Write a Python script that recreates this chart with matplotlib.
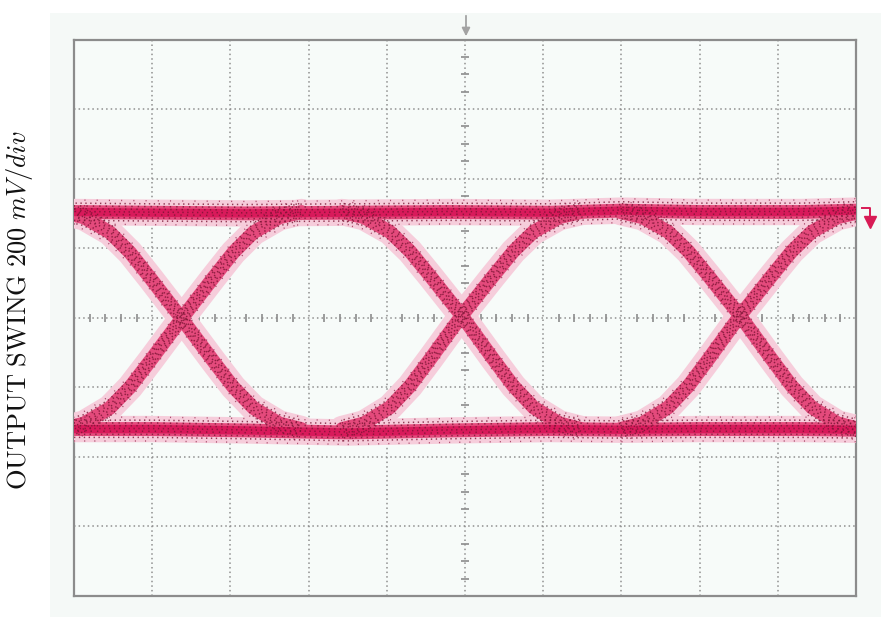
import matplotlib
matplotlib.use("Agg")
import matplotlib.pyplot as plt
import numpy as np
from matplotlib.transforms import offset_copy
from matplotlib.patches import Rectangle

# ---- data (in scope divisions) ----
crossing_x = [1.377, 4.958, 8.517]
crossing_y = [-0.013, 0.03, 0.03]
high_level = 1.52
low_level = -1.60

# transition profile: offset from crossing (div) -> fraction of half-swing
profile_dx = [-1.53, -1.25, -0.92, -0.66, -0.40, -0.19, 0.0, 0.19, 0.40, 0.66, 0.92, 1.25, 1.53]
profile_frac = [1.0, 0.95, 0.81, 0.62, 0.38, 0.18, 0.0, -0.18, -0.38, -0.62, -0.81, -0.95, -1.0]

# rails (slightly wavy)
rail_x = [0.0, 1.0, 2.2, 3.5, 4.8, 6.1, 7.0, 8.0, 9.3, 10.0]
top_rail = [1.52, 1.51, 1.50, 1.51, 1.52, 1.51, 1.54, 1.52, 1.52, 1.54]
bottom_rail = [-1.60, -1.60, -1.62, -1.65, -1.62, -1.60, -1.61, -1.60, -1.60, -1.61]

W, H = 881, 617
plt.rcParams["mathtext.fontset"] = "cm"
fig = plt.figure(figsize=(W / 100, H / 100), dpi=100)
fig.patch.set_facecolor("white")
fig.patches.append(Rectangle((50 / W, 0), 1 - 50 / W, 1 - 13 / H, transform=fig.transFigure,
                             facecolor="#f5f9f7", edgecolor="none", zorder=-10))

ax = fig.add_axes([74 / W, 21 / H, (856 - 74) / W, (596 - 39.5) / H])
ax.set_zorder(1)
ax.set_facecolor("#f7fbf9")
ax.set_xlim(0, 10)
ax.set_ylim(-4, 4)
ax.set_xticks(range(11))
ax.set_yticks(range(-4, 5))
ax.tick_params(length=0, labelbottom=False, labelleft=False)
ax.grid(True, color="#8f8f8f", lw=1.1, ls=(0, (1, 2)))
for s in ax.spines.values():
    s.set_color("#8c8c8c")
    s.set_linewidth(1.6)

# center axis minor ticks
mx = [v for v in np.arange(0, 10.001, 0.2) if abs(v - round(v)) > 1e-6]
my = [v for v in np.arange(-4, 4.001, 0.25) if abs(v - round(v)) > 1e-6]
ax.plot(mx, [0] * len(mx), ls="none", marker="|", ms=6, mew=1.2, color="#8c8c8c", zorder=2)
ax.plot([5] * len(my), my, ls="none", marker="_", ms=6, mew=1.2, color="#8c8c8c", zorder=2)

# collect traces
rails = [(rail_x, top_rail), (rail_x, bottom_rail)]
edges = []
for cx, cy in zip(crossing_x, crossing_y):
    up = high_level - cy
    dn = cy - low_level
    xs = [cx + d for d in profile_dx]
    fall = [cy + (f * up if f > 0 else f * dn) for f in profile_frac]
    rise = [cy + (-f * up if -f > 0 else -f * dn) for f in profile_frac]
    edges.append((xs, fall))
    edges.append((xs, rise))
traces = rails + edges

kw = dict(solid_capstyle="round", solid_joinstyle="round")
for x, y in traces:
    ax.plot(x, y, color="#f6cddb", lw=19, zorder=3, **kw)
for x, y in traces:
    ax.plot(x, y, color="#e44a7c", lw=10, zorder=4, **kw)
for x, y in rails:
    ax.plot(x, y, color="#d91a5b", lw=6, zorder=4, **kw)

offsets = [-6.0, -3.8, -1.6, 0.4, 2.4, 4.4, 6.4]
outer = [-8.6, 8.6]
for x, y in traces:
    for k, off in enumerate(offsets):
        tr = offset_copy(ax.transData, fig=fig, x=0, y=off, units="points")
        ax.plot(x, y, transform=tr, color="#7a1433", lw=1.1, alpha=0.8,
                ls=(0.9 * k, (0.9, 2.3 + 0.5 * (k % 3))), zorder=5)
    for k, off in enumerate(outer):
        tr = offset_copy(ax.transData, fig=fig, x=0, y=off, units="points")
        ax.plot(x, y, transform=tr, color="#8e1840", lw=1.0, alpha=0.7,
                ls=(1.3 * k, (0.8, 6.5 + 1.5 * k)), zorder=5)

# top trigger arrow
ax.annotate("", xy=(466 / W, 1 - 39 / H), xytext=(466 / W, 1 - 13 / H),
            xycoords="figure fraction", textcoords="figure fraction",
            arrowprops=dict(arrowstyle="-|>", color="#a3a3a3", lw=1.3, mutation_scale=12),
            annotation_clip=False)

# right level marker
red = "#d81b55"
fig.add_artist(plt.Line2D([862 / W, 870 / W, 870 / W],
                          [1 - 208 / H, 1 - 208 / H, 1 - 219 / H],
                          transform=fig.transFigure, color=red, lw=1.4))
fig.add_artist(plt.Line2D([870 / W], [1 - 222 / H], transform=fig.transFigure,
                          marker="v", ms=8, color=red, ls="none"))

fig.text(20 / W, 1 - 310 / H, r"$\mathrm{OUTPUT\ SWING\ 200}\ mV/div$",
         rotation=90, ha="center", va="center", fontsize=19, color="#111111")

fig.savefig("out.png", dpi=100)
